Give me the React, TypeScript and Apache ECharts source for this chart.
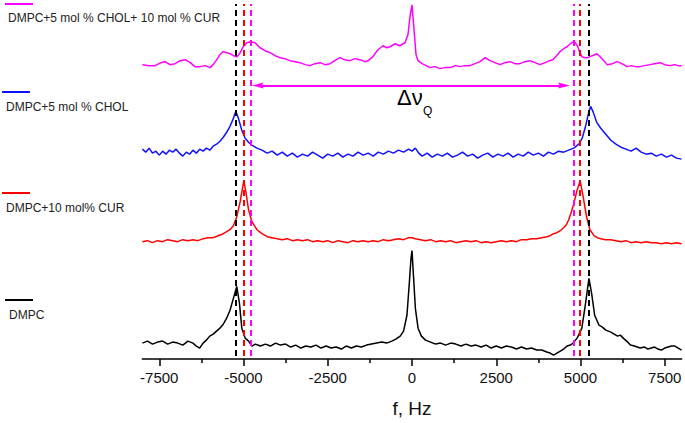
import React, { useEffect, useRef } from 'react';
import * as echarts from 'echarts';

// ---- data (frequency in Hz, intensity in a.u. above each trace's baseline) ----
const seriesNames = ['DMPC', 'DMPC+10 mol% CUR', 'DMPC+5 mol % CHOL', 'DMPC+5 mol % CHOL+ 10 mol % CUR'];
const baselineOffsets = [16, 118, 206, 296];

const dmpc: [number, number][] = [
  [-8000,0],[-7850,2],[-7700,-1],[-7550,1],[-7400,2],[-7250,-1],[-7100,1],[-6950,0],[-6800,-2],[-6650,2],[-6500,0],[-6400,-3],[-6300,-5],[-6200,0],[-6100,3],[-6000,7],[-5900,9],[-5800,12],[-5700,15],[-5600,19],[-5500,25],[-5400,33],[-5300,45],[-5200,57],[-5120,40],[-5050,15],[-4950,5],[-4850,2],[-4750,-3],[-4650,-1],[-4500,-3],[-4350,-1],[-4200,-3],[-4050,0],[-3900,-2],[-3750,-1],[-3600,-4],[-3450,-2],[-3300,-5],[-3150,-3],[-3000,-4],[-2850,-2],[-2700,-5],[-2550,-3],[-2400,-5],[-2250,-4],[-2100,-6],[-1950,-3],[-1800,-5],[-1650,-3],[-1500,-4],[-1350,-2],[-1200,-1],[-1050,0],[-900,1],[-750,0],[-600,2],[-480,4],[-350,7],[-250,12],[-150,28],[-80,60],[-30,85],[0,93],[40,70],[100,35],[180,15],[280,7],[400,3],[550,1],[700,-1],[850,0],[1000,-2],[1150,0],[1300,-1],[1450,-3],[1600,-1],[1750,-3],[1900,-2],[2050,-4],[2200,-2],[2350,-5],[2500,-3],[2650,-5],[2800,-3],[2950,-4],[3100,-6],[3250,-4],[3400,-6],[3550,-5],[3700,-7],[3850,-7],[4000,-9],[4100,-10],[4200,-12],[4300,-10],[4400,-8],[4500,-6],[4600,-3],[4700,-2],[4780,0],[4900,5],[5040,15],[5150,40],[5250,65],[5330,50],[5420,28],[5550,18],[5650,16],[5750,13],[5900,11],[6000,9],[6100,7],[6180,8],[6300,4],[6400,1],[6480,-2],[6600,-3],[6770,-5],[6900,-4],[7000,-6],[7100,-5],[7200,-4],[7300,-6],[7400,-7],[7500,-5],[7600,-4],[7700,-3],[7800,-3],[7900,-5],[8000,-7]
];

const dmpcCur: [number, number][] = [
  [-8000,0],[-7850,1],[-7700,-1],[-7550,1],[-7400,0],[-7250,2],[-7100,1],[-6950,0],[-6800,2],[-6650,1],[-6500,2],[-6350,1],[-6200,3],[-6050,4],[-5900,4],[-5750,6],[-5600,8],[-5500,10],[-5400,12],[-5300,16],[-5200,25],[-5100,40],[-5040,52],[-4990,61],[-4930,50],[-4850,32],[-4750,20],[-4600,12],[-4450,8],[-4300,5],[-4150,4],[-4000,3],[-3850,2],[-3700,3],[-3550,1],[-3400,2],[-3250,1],[-3100,2],[-2950,0],[-2800,1],[-2650,0],[-2500,1],[-2350,-1],[-2200,1],[-2050,0],[-1900,-1],[-1750,1],[-1600,0],[-1450,1],[-1300,0],[-1150,1],[-1000,0],[-850,2],[-700,1],[-550,2],[-400,3],[-250,2],[-100,4],[0,4],[100,3],[250,2],[400,1],[550,2],[700,0],[850,1],[1000,0],[1150,1],[1300,-1],[1450,0],[1600,1],[1750,0],[1900,1],[2050,-1],[2200,0],[2350,-1],[2500,0],[2650,1],[2800,0],[2950,1],[3100,0],[3250,2],[3400,2],[3550,3],[3700,3],[3850,4],[4000,5],[4100,6],[4200,8],[4300,9],[4400,11],[4500,14],[4580,17],[4650,22],[4730,30],[4800,38],[4900,52],[4990,61],[5080,45],[5180,25],[5280,12],[5400,6],[5500,4],[5600,3],[5750,2],[5900,2],[6050,1],[6200,0],[6350,1],[6500,-1],[6650,0],[6800,-1],[6950,0],[7100,-1],[7250,-1],[7400,-2],[7550,-1],[7700,-2],[7850,-1],[8000,-2]
];

const dmpcChol: [number, number][] = [
  [-8000,5],[-7900,2],[-7800,6],[-7700,1],[-7600,3],[-7500,-1],[-7400,3],[-7300,0],[-7200,4],[-7100,2],[-7000,5],[-6900,1],[-6800,-2],[-6700,2],[-6600,0],[-6500,4],[-6400,1],[-6300,5],[-6200,3],[-6100,6],[-6000,4],[-5900,8],[-5800,10],[-5700,13],[-5600,17],[-5500,22],[-5400,28],[-5300,36],[-5230,43],[-5150,36],[-5050,24],[-4950,16],[-4850,12],[-4750,9],[-4600,6],[-4450,4],[-4300,1],[-4150,3],[-4000,-1],[-3850,2],[-3700,-2],[-3550,1],[-3400,-3],[-3250,0],[-3100,-2],[-2950,2],[-2800,-1],[-2650,-4],[-2500,0],[-2350,-2],[-2200,1],[-2050,-3],[-1900,0],[-1750,-2],[-1600,2],[-1450,-1],[-1300,1],[-1150,-2],[-1000,2],[-850,0],[-700,3],[-550,1],[-400,4],[-250,2],[-100,5],[0,3],[100,6],[200,1],[300,-2],[450,1],[600,-3],[750,0],[900,-2],[1050,1],[1200,-3],[1350,-1],[1500,2],[1650,-2],[1800,0],[1950,-4],[2100,-1],[2250,1],[2400,-3],[2550,0],[2700,-2],[2850,1],[3000,-3],[3150,0],[3300,-2],[3450,2],[3600,-1],[3750,1],[3900,-2],[4050,2],[4200,0],[4350,3],[4500,2],[4650,4],[4800,6],[4950,10],[5050,16],[5150,28],[5230,40],[5300,48],[5380,42],[5480,32],[5600,26],[5750,20],[5900,14],[6050,10],[6200,7],[6350,5],[6500,3],[6650,6],[6800,2],[6950,0],[7100,1],[7250,-2],[7400,0],[7550,-3],[7700,-1],[7850,-4],[8000,-5]
];

const dmpcCholCur: [number, number][] = [
  [-8000,0],[-7800,-1],[-7620,-1],[-7450,2],[-7330,3],[-7180,0],[-7030,1],[-6880,4],[-6730,5],[-6580,2],[-6440,-2],[-6290,-2],[-6140,-1],[-5990,-3],[-5880,1],[-5790,5],[-5700,10],[-5610,13],[-5500,12],[-5400,11],[-5300,9],[-5190,8],[-5100,12],[-5010,18],[-4900,22],[-4800,23],[-4660,22],[-4510,17],[-4360,14],[-4210,12],[-4060,9],[-3920,7],[-3770,6],[-3620,4],[-3470,3],[-3320,2],[-3170,0],[-3030,-1],[-2880,1],[-2730,2],[-2580,0],[-2430,1],[-2290,4],[-2140,7],[-2000,5],[-1840,4],[-1690,6],[-1540,5],[-1400,3],[-1300,4],[-1160,8],[-1010,15],[-860,19],[-750,17],[-650,18],[-500,21],[-360,19],[-210,22],[-120,30],[-60,48],[0,60],[60,35],[120,10],[180,4],[300,1],[420,-1],[530,-3],[680,-2],[830,-4],[980,-3],[1130,-3],[1280,-1],[1420,-2],[1570,-1],[1720,-1],[1870,1],[2020,3],[2170,7],[2310,4],[2460,2],[2610,0],[2760,2],[2910,3],[3050,1],[3200,1],[3350,3],[3500,4],[3650,2],[3800,0],[3950,2],[4080,4],[4180,5],[4290,9],[4390,13],[4500,16],[4600,18],[4700,21],[4780,23],[4850,22],[4920,18],[4980,12],[5040,8],[5130,7],[5220,7],[5350,9],[5490,11],[5640,6],[5790,0],[5950,1],[6080,3],[6170,2],[6280,0],[6380,-2],[6520,-1],[6640,-2],[6760,-2],[6900,-1],[7060,0],[7200,1],[7360,2],[7500,0],[7650,-1],[7800,0],[7900,-1],[8000,-1]
];

const traces = [dmpc, dmpcCur, dmpcChol, dmpcCholCur];

// quadrupolar splitting positions (Hz) marked by dashed lines
const splittingDMPC = [-5230, 5230];
const splittingCUR = [-4990, 4990];
const splittingCHOLCUR = [-4790, 4790];
// arrow (Δν_Q) end points in Hz, and its height / dashed line span in a.u.
const arrowEnds = [-4580, 4510];
const arrowLevel = 275;
const dashSpan = [3, 357];

const xMajorTicks = [-7500, -5000, -2500, 0, 2500, 5000, 7500];
const xMinorTicks = [-6250, -3750, -1250, 1250, 3750, 6250];

// ---- styles ----
const seriesColors = ['#000000', '#ff0000', '#1010ff', '#ff00ff'];
const FONT = '"Liberation Sans", Arial, sans-serif';
const legendLayout = [
  { x1: 5, x2: 33, ly: 300, tx: 9, ty: 315 },
  { x1: 2, x2: 30, ly: 193, tx: 6, ty: 208 },
  { x1: 2, x2: 30, ly: 92, tx: 6, ty: 107 },
  { x1: 5, x2: 33, ly: 4, tx: 8, ty: 18 },
];
const ARROW_PATH = 'path://M3,0L6,12L3,10L0,12Z';

export default function App() {
  const ref = useRef<HTMLDivElement>(null);
  useEffect(() => {
    document.body.style.margin = '0';
    const chart = echarts.init(ref.current!, undefined, { renderer: 'svg' });

    const dashedData: any[] = [];
    const addDashed = (vals: number[], color: string) => {
      vals.forEach((f) => {
        dashedData.push([
          { coord: [f, dashSpan[0]], lineStyle: { color, width: 2, type: [6, 4] } },
          { coord: [f, dashSpan[1]] },
        ]);
      });
    };
    addDashed(splittingDMPC, '#000000');
    addDashed(splittingCUR, '#ff0000');
    addDashed(splittingCHOLCUR, '#ff00ff');

    const graphics: any[] = [];
    legendLayout.forEach((l, i) => {
      graphics.push({
        type: 'line',
        shape: { x1: l.x1, y1: l.ly, x2: l.x2, y2: l.ly },
        style: { stroke: seriesColors[i], lineWidth: 2 },
      });
      graphics.push({
        type: 'text',
        x: l.tx,
        y: l.ty,
        style: { text: seriesNames[i], fontSize: 12, fontFamily: FONT, fill: '#222', verticalAlign: 'middle', align: 'left' },
      });
    });
    graphics.push({
      type: 'text',
      x: 397,
      y: 97,
      style: { text: 'Δν', fontSize: 22, fontFamily: FONT, fill: '#000', verticalAlign: 'middle', align: 'left' },
    });
    graphics.push({
      type: 'text',
      x: 423,
      y: 111,
      style: { text: 'Q', fontSize: 12, fontFamily: FONT, fill: '#000', verticalAlign: 'middle', align: 'left' },
    });

    const option: any = {
      animation: false,
      backgroundColor: '#ffffff',
      grid: { left: 142.4, right: 3.4, top: 0, bottom: 62 },
      xAxis: [
        {
          type: 'value',
          min: -8000,
          max: 8000,
          position: 'bottom',
          axisLine: { show: true, onZero: false, lineStyle: { color: '#000', width: 1.5 } },
          axisTick: { show: true, customValues: xMajorTicks, length: 7, lineStyle: { color: '#000', width: 1.5 } },
          axisLabel: {
            customValues: xMajorTicks,
            formatter: (v: number) => String(v),
            fontSize: 15,
            fontFamily: FONT,
            color: '#111',
            margin: 11,
          },
          splitLine: { show: false },
          name: 'f, Hz',
          nameLocation: 'middle',
          nameGap: 40,
          nameTextStyle: { fontSize: 19, fontFamily: FONT, color: '#111' },
        },
        {
          type: 'value',
          min: -8000,
          max: 8000,
          position: 'bottom',
          axisLine: { show: false, onZero: false },
          axisTick: { show: true, customValues: xMinorTicks, length: 4, lineStyle: { color: '#000', width: 1.5 } },
          axisLabel: { show: false },
          splitLine: { show: false },
        },
      ],
      yAxis: { type: 'value', min: 0, max: 361, show: false },
      graphic: graphics,
      series: [
        ...traces.map((t, i) => ({
          type: 'line',
          name: seriesNames[i],
          data: t.map(([f, v]) => [f, baselineOffsets[i] + v]),
          showSymbol: false,
          symbol: 'none',
          silent: true,
          lineStyle: { color: seriesColors[i], width: 1.5 },
          itemStyle: { color: seriesColors[i] },
          z: 2,
        })),
        {
          type: 'line',
          name: 'markers',
          data: [],
          z: 3,
          silent: true,
          markLine: {
            silent: true,
            symbol: ['none', 'none'],
            label: { show: false },
            data: dashedData,
          },
        },
        {
          type: 'line',
          name: 'arrow',
          data: [],
          z: 3,
          silent: true,
          markLine: {
            silent: true,
            symbol: [ARROW_PATH, ARROW_PATH],
            symbolSize: 12,
            symbolKeepAspect: true,
            label: { show: false },
            itemStyle: { color: '#ff00ff' },
            lineStyle: { color: '#ff00ff', width: 2, type: 'solid' },
            data: [[{ coord: [arrowEnds[0], arrowLevel] }, { coord: [arrowEnds[1], arrowLevel] }]],
          },
        },
      ],
    };
    chart.setOption(option);
    return () => chart.dispose();
  }, []);
  return <div ref={ref} style={{ width: 685, height: 423 }} />;
}
